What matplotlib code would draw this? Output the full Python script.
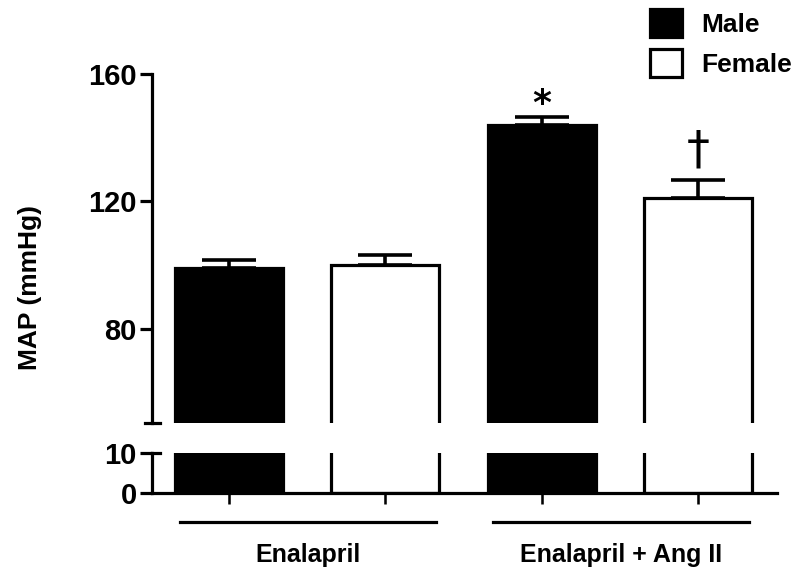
import matplotlib
matplotlib.use("Agg")
import matplotlib.pyplot as plt
import matplotlib.transforms as mtrans
from matplotlib.patches import Patch

plt.rcParams['font.family'] = ['Liberation Sans', 'DejaVu Sans']
plt.rcParams['font.weight'] = 'bold'

# data
groups = ['Enalapril', 'Enalapril + Ang II']
sexes = ['Male', 'Female']
map_mean = [99.2, 100.2, 144.0, 121.1]   # M, F, M, F
map_sem = [2.5, 3.1, 2.5, 5.6]
bar_colors = ['black', 'white', 'black', 'white']
marks = ['', '', '*', '\u2020']
positions = [0, 1, 2, 3]

fig = plt.figure(figsize=(7.95, 5.74), dpi=100)
ax_top = fig.add_axes([0.1912, 0.2631, 0.7862, 0.6080])
ax_bot = fig.add_axes([0.1912, 0.1411, 0.7862, 0.0697])

lw = 2.3
width = 0.69
for ax in (ax_top, ax_bot):
    ax.bar(positions, map_mean, width=width, color=bar_colors,
           edgecolor='black', linewidth=lw, zorder=2)
    ax.set_xlim(-0.493, 3.505)
    for s in ('top', 'right'):
        ax.spines[s].set_visible(False)
    ax.spines['left'].set_linewidth(lw)
    ax.spines['bottom'].set_linewidth(lw)
    ax.tick_params(axis='y', direction='out', length=9, width=lw,
                   labelsize=21, pad=2)

# upper segment
ax_top.set_ylim(50.5, 160)
ax_top.set_yticks([80, 120, 160])
ax_top.spines['bottom'].set_visible(False)
ax_top.set_xticks([])
ax_top.errorbar(positions, map_mean, yerr=[[0] * 4, map_sem], fmt='none',
                ecolor='black', elinewidth=2.6, capsize=19.5, capthick=2.6,
                zorder=3)
for x, m, e, t in zip(positions, map_mean, map_sem, marks):
    if t == '*':
        ax_top.text(x, m + e + 0.8, t, ha='center', va='baseline',
                    fontsize=26, fontweight='bold', family='DejaVu Sans')
    elif t:
        ax_top.text(x, m + e + 2.0, t, ha='center', va='bottom',
                    fontsize=33, fontweight='normal', family='DejaVu Sans')
ax_top.set_ylabel('MAP (mmHg)', fontsize=19, fontweight='bold')
ax_top.yaxis.set_label_coords(-0.176, 0.387)

# break marks
ax_top.plot([-0.011, 0.012], [0, 0], color='black', lw=lw,
            transform=ax_top.transAxes, clip_on=False)
ax_bot.plot([0, 0.012], [1, 1], color='black', lw=lw,
            transform=ax_bot.transAxes, clip_on=False)

# lower segment
ax_bot.set_ylim(0, 10)
ax_bot.set_yticks([0, 10])
ax_bot.set_xticks(positions)
ax_bot.set_xticklabels([])
ax_bot.tick_params(axis='x', direction='out', length=8, width=lw * 0.8)

# group lines and labels
tr = mtrans.blended_transform_factory(ax_bot.transData, ax_bot.transAxes)
for i, g in enumerate(groups):
    x0 = positions[2 * i] - width / 2 + 0.03
    x1 = positions[2 * i + 1] + width / 2 - 0.02
    ax_bot.plot([x0, x1], [-0.73, -0.73], color='black', lw=lw,
                transform=tr, clip_on=False)
    ax_bot.text((x0 + x1) / 2, -1.55, g, ha='center', va='center',
                fontsize=18, fontweight='bold', transform=tr)

handles = [Patch(facecolor='black', edgecolor='black', linewidth=lw),
           Patch(facecolor='white', edgecolor='black', linewidth=lw)]
fig.legend(handles, sexes, loc='upper left', bbox_to_anchor=(650 / 795, 1 - 9 / 574),
           frameon=False, prop={'weight': 'bold', 'size': 19},
           handlelength=1.2, handleheight=1.25, handletextpad=0.75,
           labelspacing=0.45, borderaxespad=0, borderpad=0)

fig.savefig('out.png', dpi=100)
